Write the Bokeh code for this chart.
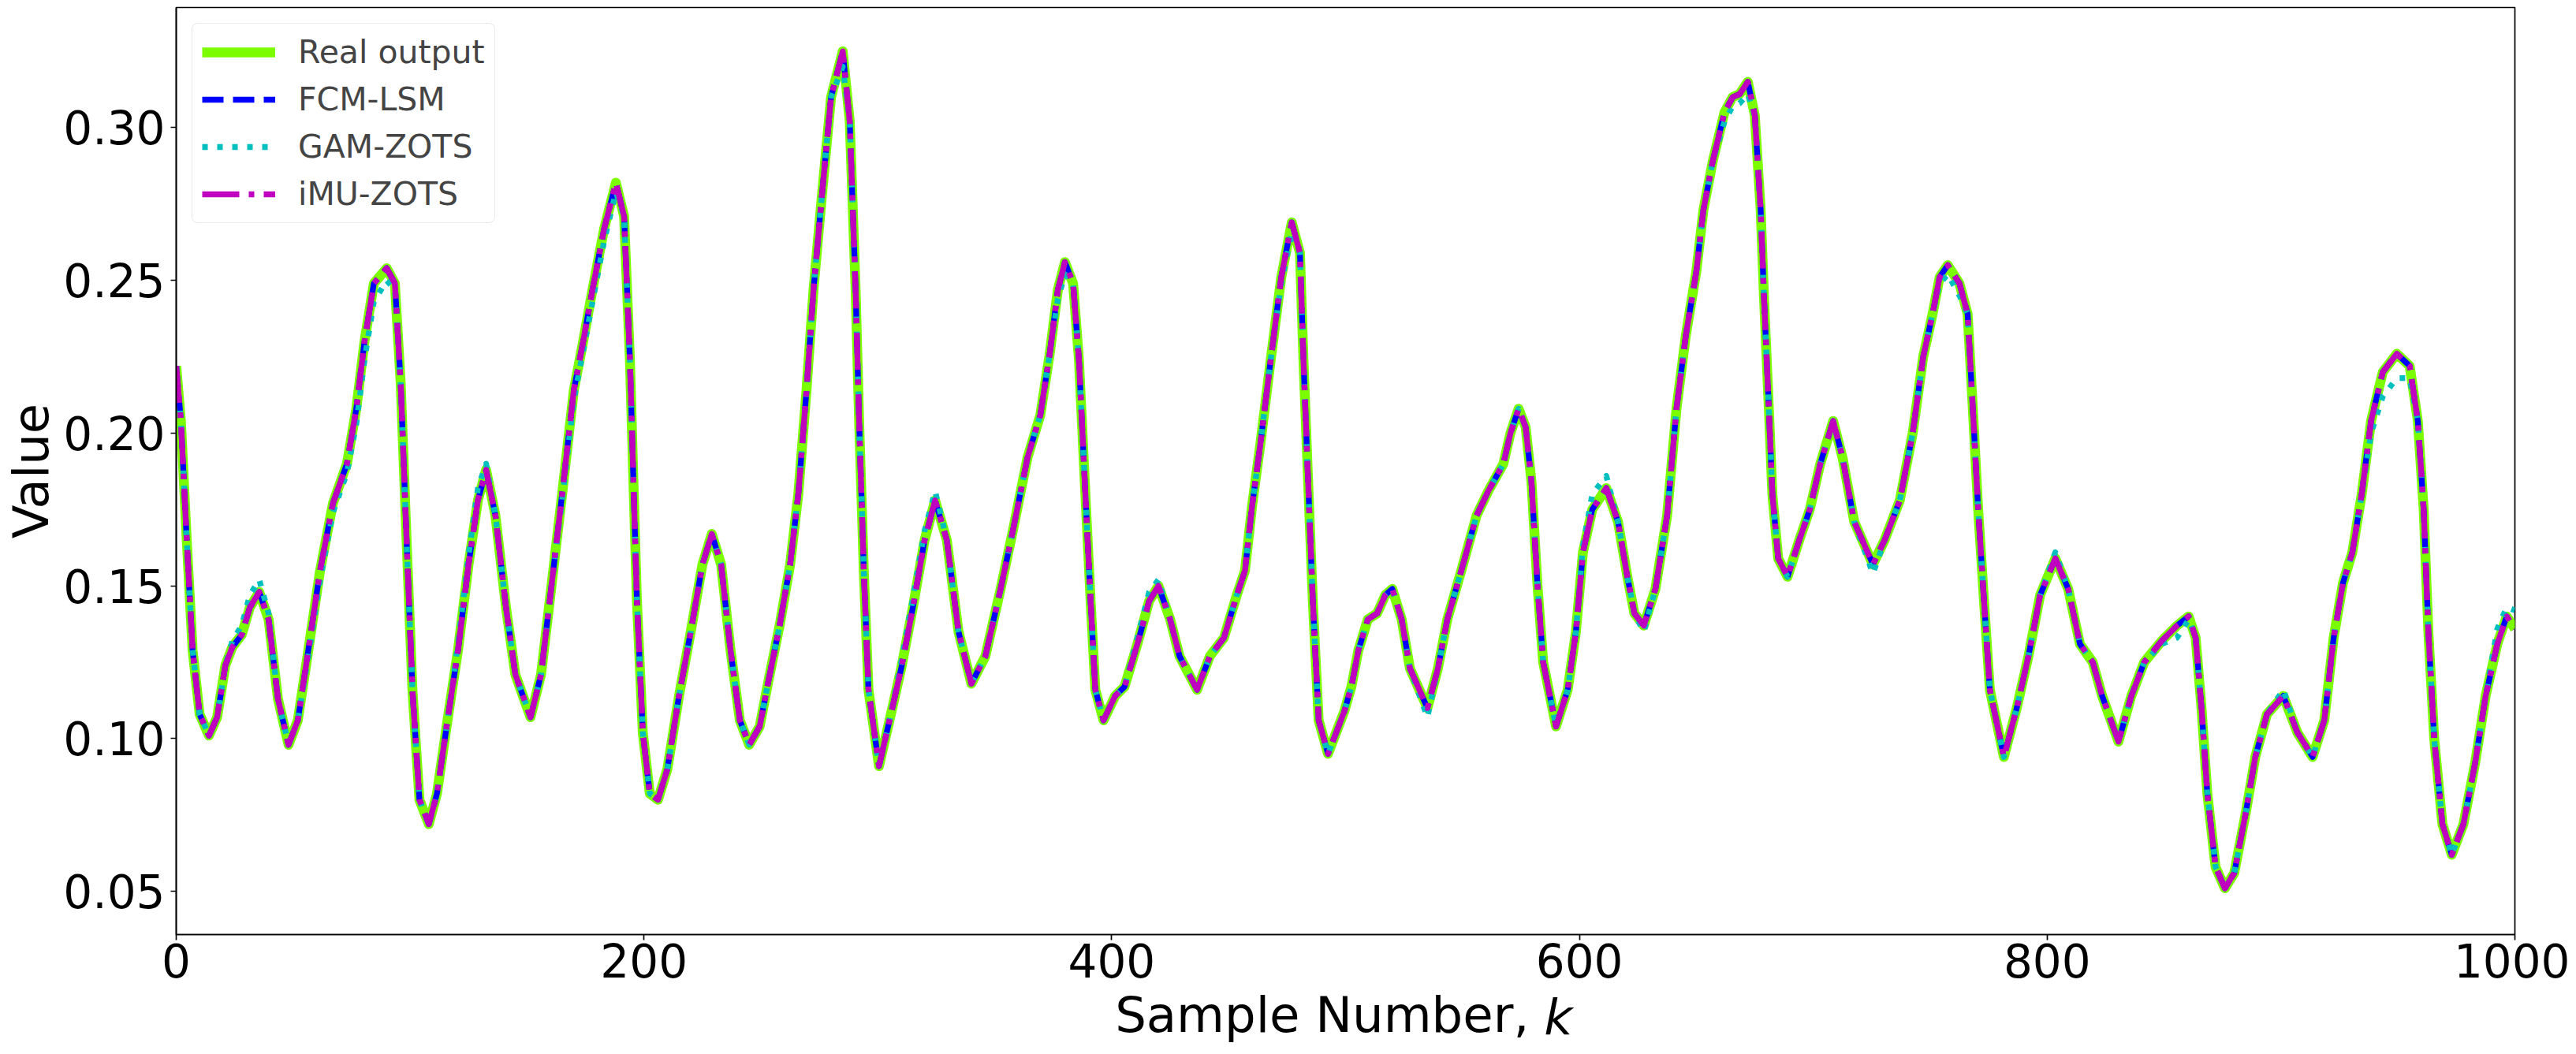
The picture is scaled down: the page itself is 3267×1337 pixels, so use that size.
from bokeh.plotting import figure
from bokeh.models import Range1d, FixedTicker, PrintfTickFormatter, ColumnDataSource, LinearAxis
from bokeh.embed import file_html
from bokeh.resources import INLINE

# ---------------- data ----------------
k = [0, 2, 4.5, 7, 10, 14, 17.5, 21, 24, 28,
     31.5, 35.5, 39.5, 43.5, 48, 52, 56.5, 61.5, 67, 73,
     77, 80.5, 84.5, 90, 93.5, 96, 98.5, 101, 104, 108,
     111.5, 116, 120.5, 125, 129, 132.5, 136.5, 141, 145, 151.5,
     156, 160, 165, 170, 174, 178, 183, 188, 191.5, 194,
     195.5, 197, 199.5, 202.5, 206, 210, 215, 220, 225, 229,
     233, 237, 241, 245, 249.5, 253, 258, 262.5, 266, 269.5,
     272.5, 276, 280, 285, 288, 290.5, 292, 294, 296, 300.5,
     305, 310, 315, 320, 324.5, 329.5, 334.5, 340, 346, 352.5,
     358, 364, 369.5, 373.5, 377, 380, 383.5, 386, 388.5, 391,
     393, 396.5, 401.5, 405.5, 411, 416, 420, 425, 429, 436.5,
     442, 448, 453.5, 457, 460, 463.5, 468, 472.5, 477, 480.5,
     482, 484, 486, 488.5, 492.5, 499.5, 502.5, 505.5, 509.5, 513.5,
     517, 520, 524, 527.5, 535, 539.5, 543.5, 549.5, 556, 561,
     567.5, 570.5, 574, 577, 579.5, 582, 584.5, 590, 595, 598.5,
     601.5, 605.5, 611.5, 616.5, 620.5, 623.5, 627.5, 632.5, 637.5, 641.5,
     645.5, 650, 653, 657, 662, 665.5, 668.5, 672, 675, 677.5,
     679, 681, 682.5, 685, 689, 694, 698.5, 703, 708.5, 712.5,
     717.5, 725.5, 730.5, 737, 742.5, 747, 751, 754, 757.5, 762.5,
     766, 768.5, 770.5, 773, 775.5, 781.5, 787, 792, 797, 803.5,
     809, 814, 819.5, 823.5, 830.5, 836, 841.5, 849, 855.5, 860.5,
     863.5, 866, 868.5, 872, 876, 880, 885, 889, 894, 901,
     907, 913.5, 918.5, 922.5, 926.5, 930.5, 934.5, 938.5, 943.5, 949.5,
     955, 958.5, 961, 963, 965.5, 969, 973, 978, 983, 987.5,
     992.5, 996.5, 1000]

real_output = [0.222, 0.204, 0.165, 0.129, 0.108, 0.101, 0.107, 0.124, 0.130, 0.134,
               0.143, 0.148, 0.139, 0.113, 0.098, 0.106, 0.129, 0.155, 0.177, 0.190,
               0.208, 0.230, 0.249, 0.254, 0.249, 0.216, 0.165, 0.116, 0.080, 0.072,
               0.082, 0.106, 0.129, 0.157, 0.178, 0.188, 0.173, 0.143, 0.121, 0.107,
               0.121, 0.147, 0.180, 0.214, 0.230, 0.247, 0.267, 0.282, 0.271, 0.224,
               0.184, 0.145, 0.102, 0.082, 0.080, 0.090, 0.114, 0.135, 0.157, 0.167,
               0.157, 0.129, 0.106, 0.098, 0.104, 0.118, 0.137, 0.157, 0.180, 0.214,
               0.247, 0.277, 0.310, 0.325, 0.302, 0.247, 0.204, 0.155, 0.116, 0.091,
               0.106, 0.123, 0.143, 0.165, 0.178, 0.165, 0.135, 0.118, 0.127, 0.149,
               0.169, 0.192, 0.206, 0.226, 0.247, 0.256, 0.249, 0.224, 0.184, 0.145,
               0.116, 0.106, 0.114, 0.117, 0.131, 0.145, 0.150, 0.139, 0.127, 0.116,
               0.127, 0.133, 0.147, 0.155, 0.176, 0.196, 0.224, 0.251, 0.269, 0.259,
               0.224, 0.184, 0.145, 0.106, 0.095, 0.109, 0.117, 0.129, 0.139, 0.141,
               0.147, 0.149, 0.139, 0.123, 0.110, 0.123, 0.139, 0.155, 0.173, 0.181,
               0.190, 0.200, 0.208, 0.202, 0.184, 0.151, 0.125, 0.104, 0.116, 0.135,
               0.161, 0.175, 0.182, 0.171, 0.153, 0.141, 0.137, 0.149, 0.173, 0.208,
               0.232, 0.253, 0.273, 0.289, 0.305, 0.310, 0.311, 0.315, 0.304, 0.273,
               0.243, 0.208, 0.180, 0.159, 0.153, 0.165, 0.175, 0.190, 0.204, 0.192,
               0.171, 0.157, 0.165, 0.178, 0.200, 0.225, 0.239, 0.251, 0.255, 0.249,
               0.239, 0.204, 0.175, 0.145, 0.116, 0.094, 0.110, 0.127, 0.147, 0.159,
               0.149, 0.131, 0.125, 0.114, 0.099, 0.114, 0.125, 0.132, 0.137, 0.140,
               0.133, 0.110, 0.082, 0.058, 0.051, 0.056, 0.076, 0.094, 0.108, 0.114,
               0.102, 0.094, 0.106, 0.133, 0.151, 0.161, 0.180, 0.204, 0.220, 0.226,
               0.222, 0.204, 0.175, 0.135, 0.100, 0.072, 0.062, 0.072, 0.092, 0.114,
               0.131, 0.140, 0.136]

# FCM-LSM and iMU-ZOTS lie on the real output everywhere at this scale
fcm_lsm = list(real_output)
imu_zots = list(real_output)

gam_zots = [0.222, 0.204, 0.165, 0.129, 0.108, 0.101, 0.107, 0.124, 0.132, 0.137,
            0.147, 0.152, 0.141, 0.113, 0.098, 0.106, 0.127, 0.152, 0.174, 0.187,
            0.203, 0.224, 0.243, 0.250, 0.247, 0.216, 0.165, 0.116, 0.080, 0.072,
            0.082, 0.106, 0.131, 0.160, 0.182, 0.190, 0.173, 0.143, 0.121, 0.107,
            0.121, 0.147, 0.178, 0.211, 0.227, 0.243, 0.263, 0.279, 0.271, 0.224,
            0.184, 0.145, 0.102, 0.082, 0.080, 0.090, 0.114, 0.135, 0.157, 0.167,
            0.157, 0.129, 0.106, 0.098, 0.104, 0.118, 0.137, 0.157, 0.180, 0.214,
            0.247, 0.277, 0.310, 0.320, 0.302, 0.247, 0.204, 0.155, 0.116, 0.091,
            0.106, 0.125, 0.146, 0.168, 0.181, 0.165, 0.135, 0.118, 0.127, 0.149,
            0.169, 0.192, 0.206, 0.226, 0.244, 0.252, 0.249, 0.224, 0.184, 0.145,
            0.116, 0.106, 0.114, 0.117, 0.133, 0.148, 0.152, 0.139, 0.127, 0.116,
            0.127, 0.133, 0.147, 0.155, 0.176, 0.196, 0.224, 0.249, 0.266, 0.259,
            0.224, 0.184, 0.145, 0.106, 0.095, 0.109, 0.117, 0.129, 0.139, 0.141,
            0.147, 0.149, 0.139, 0.123, 0.107, 0.123, 0.139, 0.155, 0.173, 0.181,
            0.190, 0.200, 0.208, 0.202, 0.184, 0.151, 0.125, 0.104, 0.116, 0.135,
            0.163, 0.180, 0.186, 0.171, 0.153, 0.141, 0.135, 0.149, 0.173, 0.208,
            0.232, 0.253, 0.273, 0.289, 0.302, 0.307, 0.308, 0.311, 0.304, 0.273,
            0.243, 0.208, 0.180, 0.159, 0.153, 0.165, 0.175, 0.190, 0.204, 0.192,
            0.171, 0.154, 0.165, 0.178, 0.200, 0.225, 0.239, 0.249, 0.252, 0.245,
            0.239, 0.204, 0.175, 0.145, 0.116, 0.094, 0.110, 0.127, 0.147, 0.161,
            0.149, 0.131, 0.125, 0.114, 0.099, 0.114, 0.125, 0.131, 0.133, 0.139,
            0.133, 0.110, 0.082, 0.058, 0.051, 0.056, 0.076, 0.094, 0.108, 0.116,
            0.102, 0.094, 0.106, 0.133, 0.151, 0.161, 0.180, 0.200, 0.212, 0.218,
            0.218, 0.204, 0.175, 0.135, 0.100, 0.072, 0.062, 0.072, 0.092, 0.114,
            0.136, 0.143, 0.142]

series_names = ["Real output", "FCM-LSM", "GAM-ZOTS", "iMU-ZOTS"]
x_ticks = [0, 200, 400, 600, 800, 1000]
y_ticks = [0.05, 0.10, 0.15, 0.20, 0.25, 0.30]
x_lim = (0, 1000)
y_lim = (0.03585, 0.33935)
x_title = "Sample Number,"
x_title_var = "k"
y_title = "Value"

# ---------------- layout ----------------
W, H = 3259, 1329
BL, BR, BT, BB = 218, 70, 9, 140
FONT = "DejaVu Sans"
TITLE_FS = 62.5
NBSP = "\u00a0"
EMSP = "\u2003"

p = figure(width=W, height=H, x_range=Range1d(*x_lim), y_range=Range1d(*y_lim),
           output_backend="svg", toolbar_location=None,
           min_border_left=BL, min_border_right=BR, min_border_top=BT, min_border_bottom=BB)
p.grid.visible = False
p.outline_line_color = "black"
p.outline_line_width = 1.7
p.background_fill_color = "white"
p.border_fill_color = "white"

for ax in (p.xaxis[0], p.yaxis[0]):
    ax.axis_line_width = 1.7
    ax.axis_line_color = "black"
    ax.major_tick_line_width = 1.7
    ax.major_tick_out = 7
    ax.major_tick_in = 0
    ax.minor_tick_out = 0
    ax.minor_tick_in = 0
    ax.major_label_text_font = FONT
    ax.major_label_text_font_size = "58px"
    ax.major_label_text_color = "black"
p.xaxis[0].ticker = FixedTicker(ticks=x_ticks)
p.yaxis[0].ticker = FixedTicker(ticks=y_ticks)
p.yaxis[0].formatter = PrintfTickFormatter(format="%.2f")
p.xaxis[0].major_label_standoff = 4
p.yaxis[0].major_label_standoff = 7

# y title
p.yaxis[0].axis_label = y_title
p.yaxis[0].axis_label_standoff = 1
p.yaxis[0].axis_label_text_font = FONT
p.yaxis[0].axis_label_text_font_size = f"{TITLE_FS}px"
p.yaxis[0].axis_label_text_font_style = "normal"
p.yaxis[0].axis_label_text_color = "black"


# x title: "Sample Number," upright and "k" italic on one line; both labels are
# centred on the frame, so non-breaking spaces shift each part to its place.
def title_axis(text, standoff, style):
    a = LinearAxis(ticker=FixedTicker(ticks=[]))
    a.axis_line_color = None
    a.major_tick_out = 0
    a.major_tick_in = 0
    a.minor_tick_out = 0
    a.minor_tick_in = 0
    a.major_label_standoff = 0
    a.axis_label = text
    a.axis_label_standoff = standoff
    a.axis_label_text_font = FONT
    a.axis_label_text_font_size = f"{TITLE_FS}px"
    a.axis_label_text_font_style = style
    a.axis_label_text_color = "black"
    return a


p.add_layout(title_axis(x_title + NBSP * 3, 8, "normal"), "below")
p.add_layout(title_axis(EMSP * 8 + NBSP * 2 + x_title_var, -73, "italic"), "below")

src = ColumnDataSource(dict(k=k, real=real_output, fcm=fcm_lsm, gam=gam_zots, imu=imu_zots))
p.line("k", "real", source=src, line_color="#7CFC00", line_width=12.5,
       line_join="round", legend_label=series_names[0])
p.line("k", "fcm", source=src, line_color="#0000FF", line_width=7.3, line_dash="27 12",
       line_join="round", legend_label=series_names[1])
p.line("k", "gam", source=src, line_color="#00BFBF", line_width=7.3, line_dash="7 12",
       line_join="round", legend_label=series_names[2])
p.line("k", "imu", source=src, line_color="#BF00BF", line_width=7.3, line_dash="47 12 7 12",
       line_join="round", legend_label=series_names[3])

lg = p.legend[0]
lg.location = "top_left"
lg.margin = 20
lg.padding = 12
lg.spacing = 12
lg.glyph_width = 93
lg.glyph_height = 42
lg.label_height = 42
lg.label_standoff = 29
lg.label_text_font = FONT
lg.label_text_font_size = "41px"
lg.border_line_color = "#d6d6d6"
lg.border_line_width = 1.7
lg.background_fill_alpha = 0.8
if "border_radius" in lg.properties():
    lg.border_radius = 8

open("out.html", "w").write(file_html(p, INLINE))
